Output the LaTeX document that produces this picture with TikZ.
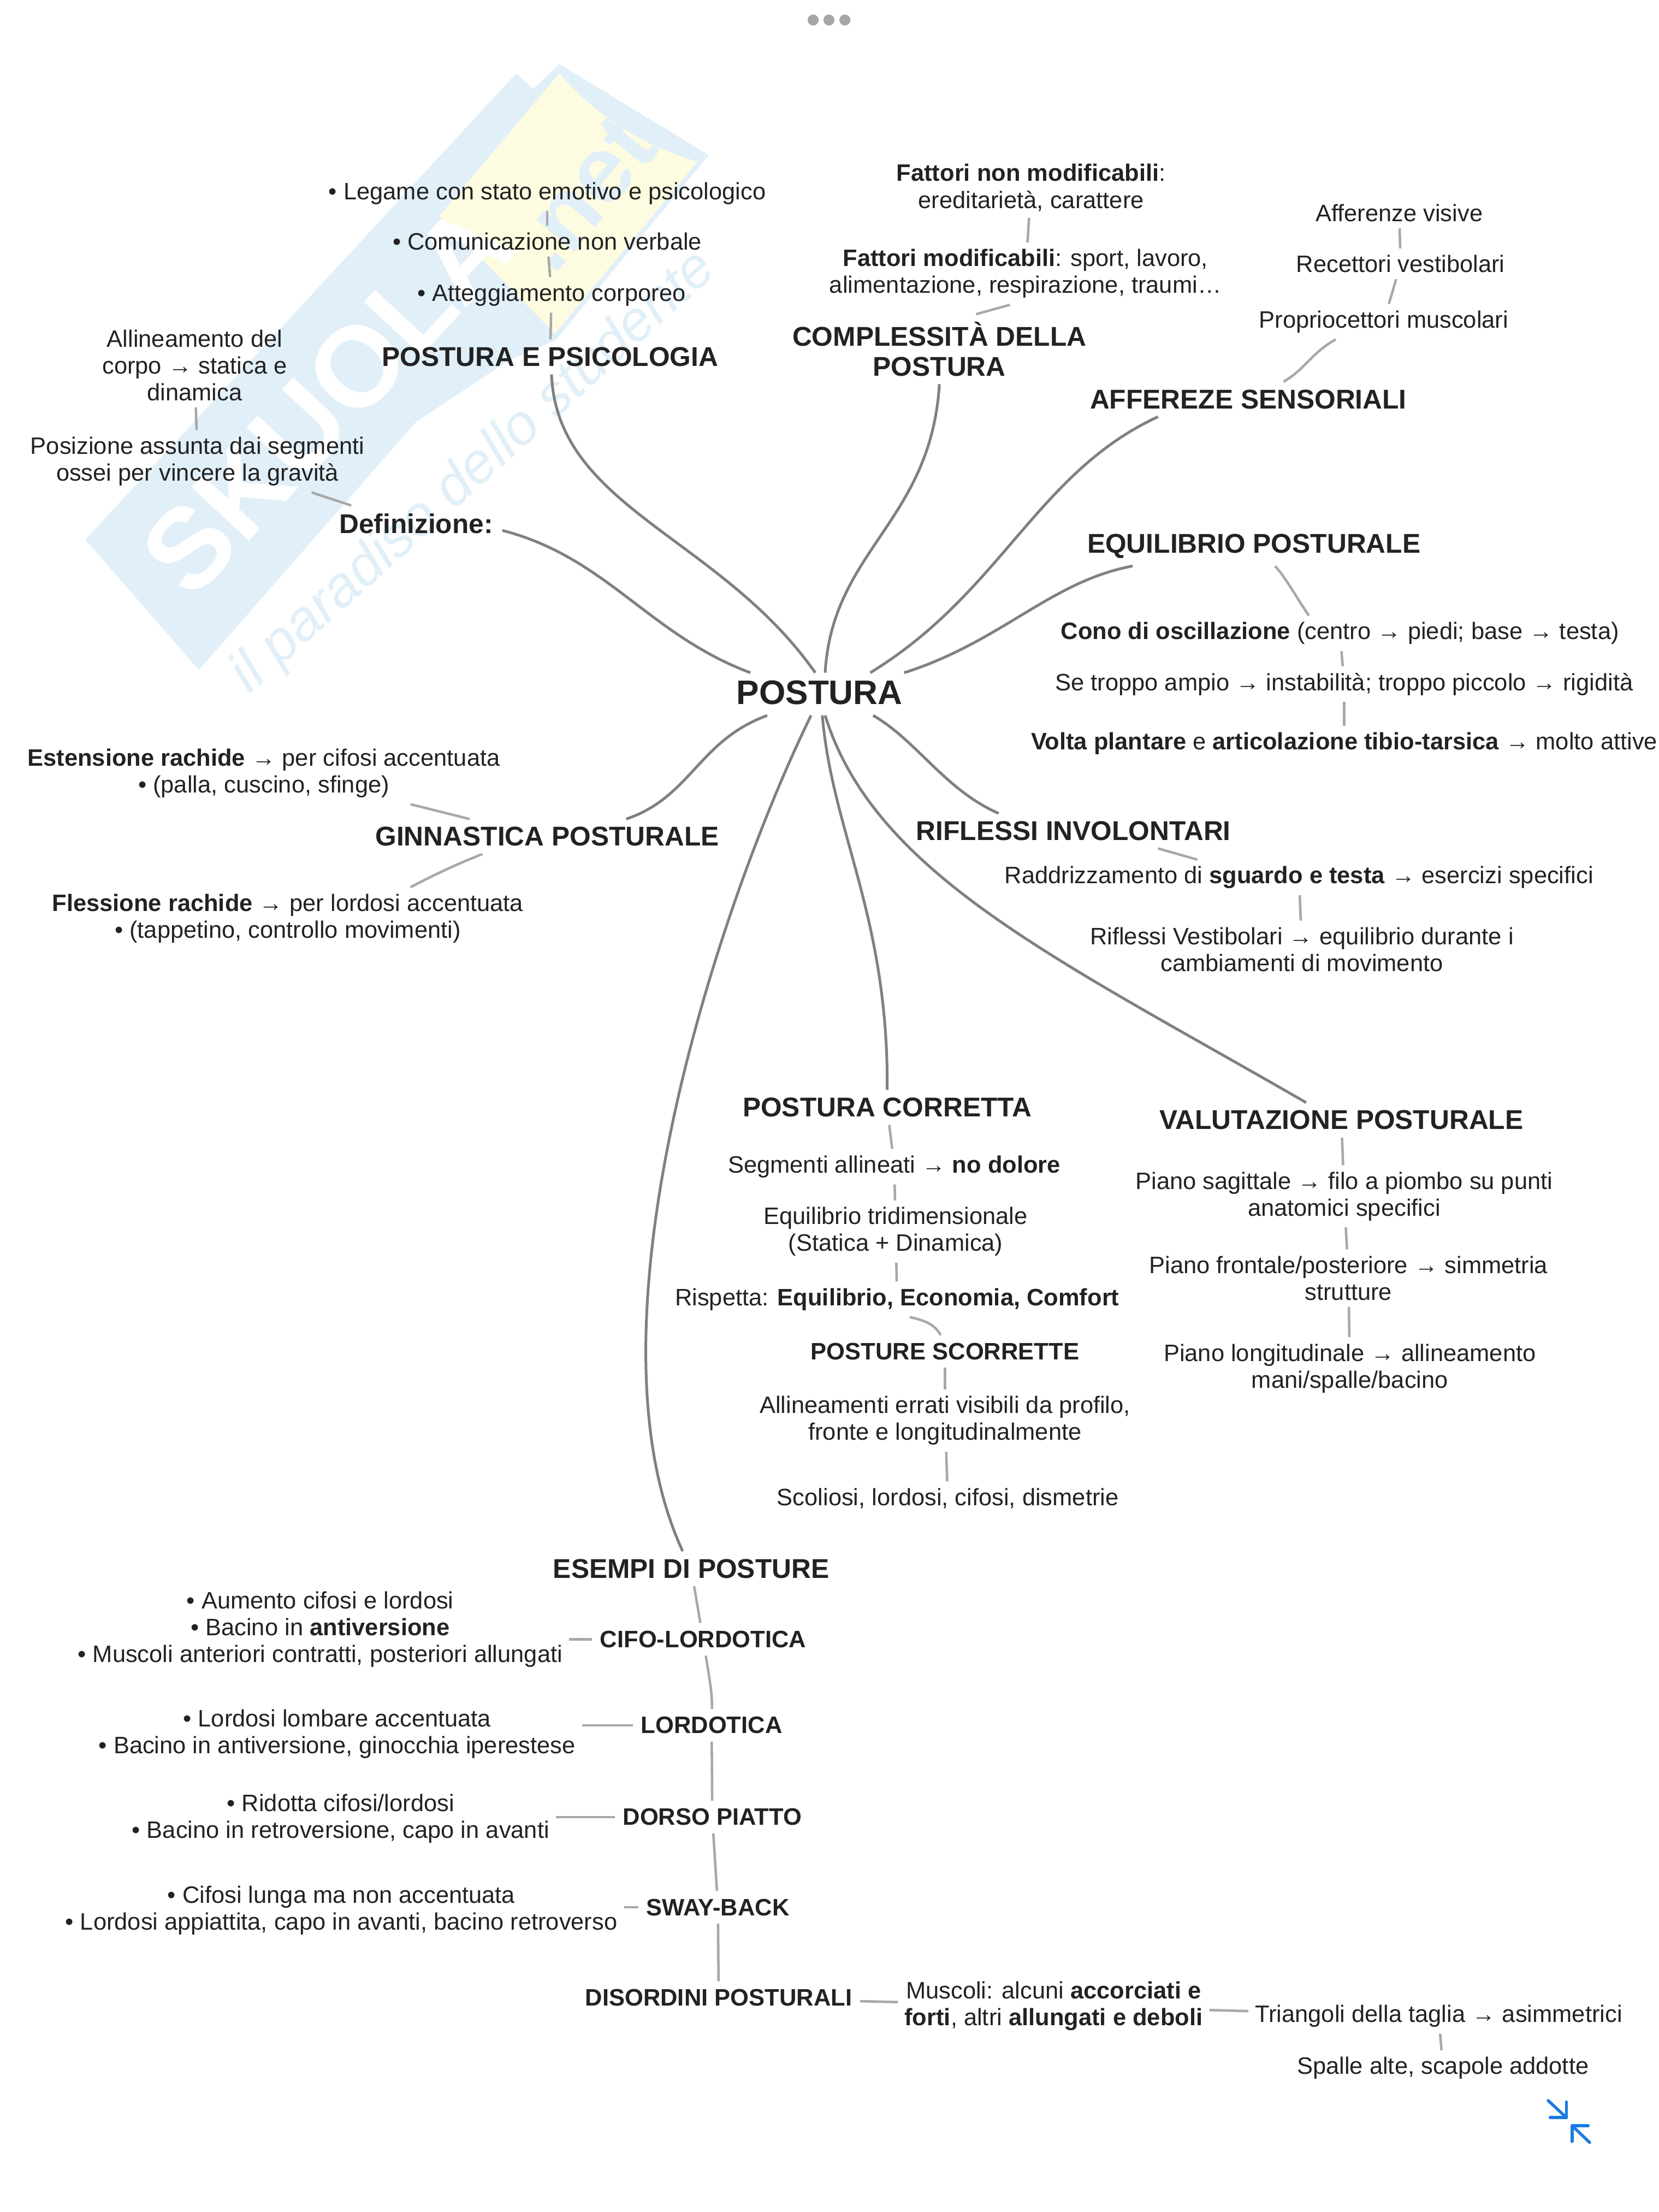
\documentclass[tikz,border=0pt]{standalone}
\usepackage{fontspec}
\setmainfont{Liberation Sans}
\definecolor{inchiostro}{HTML}{222222}
\definecolor{ramocol}{HTML}{808080}
\definecolor{foglia}{HTML}{A8A8A8}
\definecolor{celeste}{HTML}{E1EFF8}
\definecolor{giallino}{HTML}{FEFCE0}
\definecolor{azzurro}{HTML}{1A7BE0}
\tikzset{
  testo/.style={font=\fontsize{9.58}{10.8}\selectfont, text=inchiostro, align=center, inner sep=2.5pt},
  voce/.style={font=\fontsize{10.95}{12}\selectfont\bfseries, text=inchiostro, align=center, inner sep=3pt},
  sottovoce/.style={font=\fontsize{9.6}{11}\selectfont\bfseries, text=inchiostro, align=center, inner sep=3pt},
  ramo/.style={draw=ramocol, line width=1.1pt},
  stelo/.style={draw=foglia, line width=1pt},
  icona/.style={draw=azzurro, line width=1.2pt, line cap=round, line join=round},
}
\begin{document}
\begin{tikzpicture}[x=0.02cm, y=-0.02cm]
    \useasboundingbox (0,0) rectangle (1176,1568);

    % filigrana
    \fill[celeste] (366,52) -- (60.5,382.5) -- (141,475) -- (295,299) -- (360,256)
        -- (394,241) -- (502.5,110) -- (396.6,45.4) -- (378,63) -- cycle;
    \fill[giallino] (311.5,153) -- (396.6,52) .. controls (425,85) and (460,105) .. (494.5,114.5)
        -- (393.4,236.4) -- cycle;
    \node[rotate=47, text=white, font=\fontsize{46}{46}\selectfont\bfseries] (marchio) at (232,283) {SKUOLA};
    \node[rotate=50, text=celeste, font=\fontsize{38}{38}\selectfont\bfseries] (punto) at (414,137) {.net};
    \node[rotate=42, text=celeste, font=\fontsize{23}{23}\selectfont\itshape] (motto) at (336,335) {il paradiso dello studente};

    % puntini e icona
    \foreach \px in {576.5,587.7,599} {
        \fill[gray!70] (\px,14.2) circle (3.9);
    }
    \draw[icona] (1097.6,1489) -- (1110.5,1501);
    \draw[icona] (1110.5,1490) -- (1110.5,1501) -- (1099,1501);
    \draw[icona] (1127,1518.7) -- (1114.6,1506.8);
    \draw[icona] (1114.6,1518) -- (1114.6,1506.8) -- (1126,1506.8);

    % centro
    \node[voce, font=\fontsize{13.7}{16}\selectfont\bfseries] (postura) at (581,491) {POSTURA};

    % psicologia
    \node[testo] (legame) at (388,137) {• Legame con stato emotivo e psicologico};
    \node[testo] (comunica) at (388,171) {• Comunicazione non verbale};
    \node[testo] (atteggia) at (391,209) {• Atteggiamento corporeo};
    \node[voce] (psicologia) at (390,253) {POSTURA E PSICOLOGIA};

    % definizione
    \node[testo] (allinea) at (138,259) {Allineamento del\\corpo → statica e\\dinamica};
    \node[testo] (posizione) at (140,327) {Posizione assunta dai segmenti\\ossei per vincere la gravità};
    \node[voce] (definizione) at (295,371) {Definizione:};

    % complessita
    \node[testo] (nonmod) at (731,133) {\textbf{Fattori non modificabili}:\\ereditarietà, carattere};
    \node[testo] (modif) at (727,194) {\textbf{Fattori modificabili}: sport, lavoro,\\alimentazione, respirazione, traumi…};
    \node[voce] (complessita) at (666,247.5) {COMPLESSITÀ DELLA\\POSTURA};

    % afferenze
    \node[testo] (visive) at (992,151) {Afferenze visive};
    \node[testo] (vestibolo) at (993,187) {Recettori vestibolari};
    \node[testo] (proprio) at (981,228) {Propriocettori muscolari};
    \node[voce] (afferenze) at (885,283) {AFFEREZE SENSORIALI};

    % equilibrio
    \node[voce] (equilibrio) at (889,387) {EQUILIBRIO POSTURALE};
    \node[testo] (cono) at (950,449) {\textbf{Cono di oscillazione} (centro → piedi; base → testa)};
    \node[testo] (troppo) at (953,485) {Se troppo ampio → instabilità; troppo piccolo → rigidità};
    \node[testo] (volta) at (953,527) {\textbf{Volta plantare} e \textbf{articolazione tibio-tarsica} → molto attive};

    % riflessi
    \node[voce] (riflessi) at (761,589) {RIFLESSI INVOLONTARI};
    \node[testo] (raddrizza) at (921,622) {Raddrizzamento di \textbf{sguardo e testa} → esercizi specifici};
    \node[testo] (rifvest) at (923,673) {Riflessi Vestibolari → equilibrio durante i\\cambiamenti di movimento};

    % valutazione
    \node[voce] (valuta) at (951,794) {VALUTAZIONE POSTURALE};
    \node[testo] (sagitt) at (953,848) {Piano sagittale → filo a piombo su punti\\anatomici specifici};
    \node[testo] (frontale) at (956,906) {Piano frontale/posteriore → simmetria\\strutture};
    \node[testo] (longit) at (957,970) {Piano longitudinale → allineamento\\mani/spalle/bacino};

    % corretta
    \node[voce] (corretta) at (629,785) {POSTURA CORRETTA};
    \node[testo] (segmenti) at (634,827) {Segmenti allineati → \textbf{no dolore}};
    \node[testo] (tridim) at (635,873) {Equilibrio tridimensionale\\(Statica + Dinamica)};
    \node[testo] (rispetta) at (636,921) {Rispetta: \textbf{Equilibrio, Economia, Comfort}};
    \node[sottovoce] (scorrette) at (670,958) {POSTURE SCORRETTE};
    \node[testo] (errati) at (670,1007) {Allineamenti errati visibili da profilo,\\fronte e longitudinalmente};
    \node[testo] (scoliosi) at (672,1062) {Scoliosi, lordosi, cifosi, dismetrie};

    % ginnastica
    \node[voce] (ginnastica) at (388,593) {GINNASTICA POSTURALE};
    \node[testo] (estende) at (187,548) {\textbf{Estensione rachide} → per cifosi accentuata\\• (palla, cuscino, sfinge)};
    \node[testo] (flette) at (204,651) {\textbf{Flessione rachide} → per lordosi accentuata\\• (tappetino, controllo movimenti)};

    % esempi
    \node[voce] (esempi) at (490,1112) {ESEMPI DI POSTURE};
    \node[sottovoce] (cifolord) at (498.5,1162) {CIFO-LORDOTICA};
    \node[sottovoce] (lordotica) at (504.5,1223) {LORDOTICA};
    \node[sottovoce] (dorso) at (505,1288) {DORSO PIATTO};
    \node[sottovoce] (sway) at (509,1352) {SWAY-BACK};
    \node[sottovoce] (disordini) at (509.5,1416) {DISORDINI POSTURALI};
    \node[testo] (testouno) at (227,1155) {• Aumento cifosi e lordosi\\• Bacino in \textbf{antiversione}\\• Muscoli anteriori contratti, posteriori allungati};
    \node[testo] (testodue) at (239,1229) {• Lordosi lombare accentuata\\• Bacino in antiversione, ginocchia iperestese};
    \node[testo] (testotre) at (241.5,1289) {• Ridotta cifosi/lordosi\\• Bacino in retroversione, capo in avanti};
    \node[testo] (testoquattro) at (242,1354) {• Cifosi lunga ma non accentuata\\• Lordosi appiattita, capo in avanti, bacino retroverso};
    \node[testo] (muscoli) at (747,1422) {Muscoli: alcuni \textbf{accorciati e}\\\textbf{forti}, altri \textbf{allungati e deboli}};
    \node[testo] (triangoli) at (1020,1429) {Triangoli della taglia → asimmetrici};
    \node[testo] (spalle) at (1023,1466) {Spalle alte, scapole addotte};

    % rami principali
    \draw[ramo] ([shift={(1,0)}]psicologia.south) .. controls (395,360) and (510,380) .. ([shift={(-3,0)}]postura.north);
    \draw[ramo] ([shift={(1,5)}]definizione.east) .. controls (430,395) and (460,450) .. ([shift={(-49,0)}]postura.north);
    \draw[ramo] (complessita.south) .. controls (660,370) and (590,390) .. ([shift={(4,0)}]postura.north);
    \draw[ramo] ([shift={(-64,0)}]afferenze.south) .. controls (735,335) and (710,420) .. ([shift={(36,0)}]postura.north);
    \draw[ramo] ([shift={(-86,0)}]equilibrio.south) .. controls (745,412) and (710,455) .. ([shift={(60,0)}]postura.north);
    \draw[ramo] ([shift={(38,2)}]postura.south) .. controls (650,525) and (670,560) .. ([shift={(-53,0)}]riflessi.north);
    \draw[ramo] ([shift={(4,2)}]postura.south) .. controls (620,620) and (750,680) .. ([shift={(-25,0)}]valuta.north);
    \draw[ramo] ([shift={(2,2)}]postura.south) .. controls (590,590) and (630,650) .. (corretta.north);
    \draw[ramo] ([shift={(-37,2)}]postura.south) .. controls (495,525) and (490,565) .. ([shift={(56,0)}]ginnastica.north);
    \draw[ramo] ([shift={(-6,2)}]postura.south) .. controls (510,640) and (410,940) .. ([shift={(-6,0)}]esempi.north);

    % rami secondari
    \draw[stelo] (legame) -- (comunica);
    \draw[stelo] (comunica) -- (atteggia);
    \draw[stelo] (atteggia) -- (psicologia);
    \draw[stelo] (allinea) -- (posizione);
    \draw[stelo] ([shift={(81,0)}]posizione.south) -- ([shift={(-46,0)}]definizione.north);
    \draw[stelo] (nonmod) -- (modif);
    \draw[stelo] ([shift={(-11,0)}]modif.south) -- ([shift={(26,0)}]complessita.north);
    \draw[stelo] (visive) -- (vestibolo);
    \draw[stelo] (vestibolo) -- (proprio);
    \draw[stelo] ([shift={(-34,0)}]proprio.south) .. controls (930,250) and (925,262) .. ([shift={(25,0)}]afferenze.north);
    \draw[stelo] ([shift={(15,0)}]equilibrio.south) .. controls (912,410) and (920,425) .. ([shift={(-22,0)}]cono.north);
    \draw[stelo] (cono) -- (troppo);
    \draw[stelo] (troppo) -- (volta);
    \draw[stelo] ([shift={(60,0)}]riflessi.south) -- ([shift={(-72,0)}]raddrizza.north);
    \draw[stelo] (raddrizza) -- (rifvest);
    \draw[stelo] (corretta) -- (segmenti);
    \draw[stelo] (segmenti) -- (tridim);
    \draw[stelo] (tridim) -- (rispetta);
    \draw[stelo] ([shift={(9,0)}]rispetta.south) .. controls (655,936) and (662,938) .. ([shift={(-3,0)}]scorrette.north);
    \draw[stelo] (scorrette) -- (errati);
    \draw[stelo] (errati) -- (scoliosi);
    \draw[stelo] (valuta) -- (sagitt);
    \draw[stelo] (sagitt) -- (frontale);
    \draw[stelo] (frontale) -- (longit);
    \draw[stelo] ([shift={(-55,0)}]ginnastica.north) -- ([shift={(104,0)}]estende.south);
    \draw[stelo] ([shift={(-46,0)}]ginnastica.south) .. controls (325,612) and (308,620) .. ([shift={(87,0)}]flette.north);
    \draw[stelo] (esempi) -- (cifolord);
    \draw[stelo] (cifolord) .. controls (503,1190) and (505,1200) .. (lordotica);
    \draw[stelo] (lordotica) -- (dorso);
    \draw[stelo] (dorso) -- (sway);
    \draw[stelo] (sway) -- (disordini);
    \draw[stelo] (cifolord.west) -- (cifolord.west -| testouno.east);
    \draw[stelo] (lordotica.west) -- (lordotica.west -| testodue.east);
    \draw[stelo] (dorso.west) -- (dorso.west -| testotre.east);
    \draw[stelo] (sway.west) -- (sway.west -| testoquattro.east);
    \draw[stelo] (disordini) -- (muscoli);
    \draw[stelo] (muscoli) -- (triangoli);
    \draw[stelo] (triangoli) -- (spalle);
\end{tikzpicture}
\end{document}
